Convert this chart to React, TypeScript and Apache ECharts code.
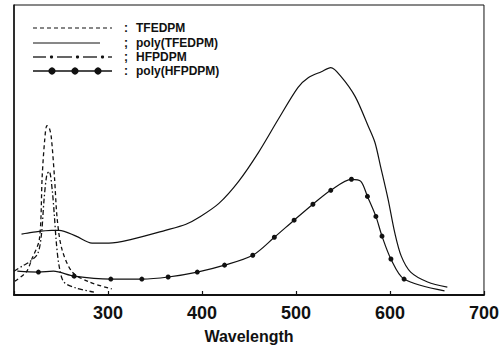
import React, { useEffect, useRef } from "react";
import * as echarts from "echarts";

// ---- Data (wavelength, relative intensity) ----
const tfedpmWl = [201, 213, 219, 227, 230, 232.7, 235, 237.4, 239.6, 243, 246, 251, 262, 280, 304];
const tfedpmVal = [4.8, 7.9, 12.4, 19.2, 41.0, 53.6, 58.4, 57.7, 54.6, 40.9, 26.1, 15.8, 7.9, 4.5, 2.1];

const polyTfedpmWl = [208, 219, 240, 248, 266, 283, 301, 325, 361, 383, 397, 418, 439, 460, 481, 502, 513, 527, 537, 548, 563, 577, 584, 590, 598, 605, 612, 622, 640, 661];
const polyTfedpmVal = [21.0, 21.6, 22.3, 22.3, 20.3, 17.9, 17.9, 19.2, 22.3, 24.4, 26.8, 31.6, 39.2, 49.1, 60.5, 71.5, 74.9, 77.0, 78.4, 75.3, 68.4, 58.1, 52.6, 44.3, 33.0, 21.6, 13.4, 7.9, 4.5, 2.7];

const hfpdpmWl = [200, 209, 216, 225, 229, 232, 235, 237.5, 240.6, 243, 245, 248, 253, 266, 285];
const hfpdpmVal = [8.2, 10.0, 11.3, 14.1, 20.3, 33.0, 41.6, 42.6, 36.4, 27.1, 18.2, 10.0, 4.5, 2.4, 1.0];

const polyHfpdpmWl = [203.5, 226, 242, 264, 303, 336, 364, 395, 424, 454, 477, 498, 518, 537, 559, 569, 576, 585, 591.5, 601, 615, 658];
const polyHfpdpmVal = [8.2, 7.9, 8.2, 6.5, 5.5, 5.5, 6.2, 7.9, 10.3, 13.7, 19.9, 25.8, 31.3, 36.1, 39.9, 39.2, 34.0, 27.1, 20.3, 12.4, 5.5, 1.4];
const polyHfpdpmMarked = [false, true, false, true, true, true, true, true, true, true, true, true, true, true, true, false, true, true, true, true, true, false];

const xTicks = [300, 400, 500, 600, 700];
const seriesNames = ["TFEDPM", "poly(TFEDPM)", "HFPDPM", "poly(HFPDPM)"];
const legendSeparators = [":", ";", ";", ":"];

const FONT = "'Liberation Sans', Arial, sans-serif";

function pairs(xs: number[], ys: number[]) {
  return xs.map((x, i) => [x, ys[i]]);
}

export default function App() {
  const ref = useRef<HTMLDivElement>(null);
  useEffect(() => {
    if (!ref.current) return;
    const chart = echarts.init(ref.current, undefined, { renderer: "svg" });
    const black = "#111";

    const legendRows = [28, 43, 57, 71];
    const lx1 = 33;
    const lx2 = 112;
    const graphic: any[] = [];
    // row 1 dashed
    graphic.push({ type: "line", shape: { x1: lx1, y1: legendRows[0], x2: lx2, y2: legendRows[0] }, style: { stroke: black, lineWidth: 1.2, lineDash: [4, 3] } });
    // row 2 solid
    graphic.push({ type: "line", shape: { x1: lx1, y1: legendRows[1], x2: 100, y2: legendRows[1] }, style: { stroke: black, lineWidth: 1 } });
    // row 3 dash-dot
    [[33, 46], [57, 72], [83, 97], [108, 112]].forEach(([a, b]) => {
      graphic.push({ type: "line", shape: { x1: a, y1: legendRows[2], x2: b, y2: legendRows[2] }, style: { stroke: black, lineWidth: 1.3 } });
    });
    [51.5, 77.5, 102.5].forEach((cx) => {
      graphic.push({ type: "circle", shape: { cx, cy: legendRows[2], r: 1.6 }, style: { fill: black } });
    });
    // row 4 line with big dots
    graphic.push({ type: "line", shape: { x1: lx1, y1: legendRows[3], x2: lx2, y2: legendRows[3] }, style: { stroke: black, lineWidth: 1.3 } });
    [52, 75, 98].forEach((cx) => {
      graphic.push({ type: "circle", shape: { cx, cy: legendRows[3], r: 3.6 }, style: { fill: black } });
    });
    seriesNames.forEach((name, i) => {
      graphic.push({
        type: "text",
        x: 124,
        y: legendRows[i],
        style: { text: legendSeparators[i], fill: black, font: `bold 12px ${FONT}`, verticalAlign: "middle", align: "left" },
      });
      graphic.push({
        type: "text",
        x: 136,
        y: legendRows[i],
        style: { text: name, fill: black, font: `bold 12px ${FONT}`, verticalAlign: "middle", align: "left" },
      });
    });

    chart.setOption({
      animation: false,
      backgroundColor: "#fff",
      grid: { left: 14, right: 16, top: 5, bottom: 61, show: true, borderColor: black, borderWidth: 1, backgroundColor: "transparent" },
      graphic,
      xAxis: {
        type: "value",
        min: 200,
        max: 700,
        interval: 100,
        name: "Wavelength",
        nameLocation: "middle",
        nameGap: 33,
        nameTextStyle: { color: black, fontFamily: FONT, fontWeight: "bold", fontSize: 16 },
        axisLine: { show: true, lineStyle: { color: black, width: 2 } },
        axisTick: { show: true, inside: true, length: 4, lineStyle: { color: black, width: 1.2 } },
        axisLabel: {
          show: true,
          margin: 9,
          color: black,
          fontFamily: FONT,
          fontWeight: "bold",
          fontSize: 18,
          formatter: (v: number) => (xTicks.includes(v) ? String(v) : ""),
        },
        splitLine: { show: false },
      },
      yAxis: {
        type: "value",
        min: 0,
        max: 100,
        axisLine: { show: true, lineStyle: { color: black, width: 1.5 } },
        axisTick: { show: false },
        axisLabel: { show: false },
        splitLine: { show: false },
      },
      series: [
        {
          name: seriesNames[0],
          type: "line",
          data: pairs(tfedpmWl, tfedpmVal),
          smooth: 0.3,
          showSymbol: false,
          lineStyle: { color: black, width: 1.3, type: [4, 3] },
        },
        {
          name: seriesNames[1],
          type: "line",
          data: pairs(polyTfedpmWl, polyTfedpmVal),
          smooth: 0.3,
          showSymbol: false,
          lineStyle: { color: black, width: 1.2 },
        },
        {
          name: seriesNames[2],
          type: "line",
          data: pairs(hfpdpmWl, hfpdpmVal),
          smooth: 0.3,
          showSymbol: false,
          lineStyle: { color: black, width: 1.3, type: [5, 2.5, 1.5, 2.5] },
        },
        {
          name: seriesNames[3],
          type: "line",
          data: polyHfpdpmWl.map((x, i) => ({
            value: [x, polyHfpdpmVal[i]],
            symbol: polyHfpdpmMarked[i] ? "circle" : "none",
          })),
          smooth: 0.3,
          showSymbol: true,
          symbolSize: 5,
          itemStyle: { color: black },
          lineStyle: { color: black, width: 1.2 },
        },
      ],
    });
    return () => chart.dispose();
  }, []);

  return <div ref={ref} style={{ position: "absolute", left: 0, top: 0, width: 502, height: 356, background: "#fff" }} />;
}
